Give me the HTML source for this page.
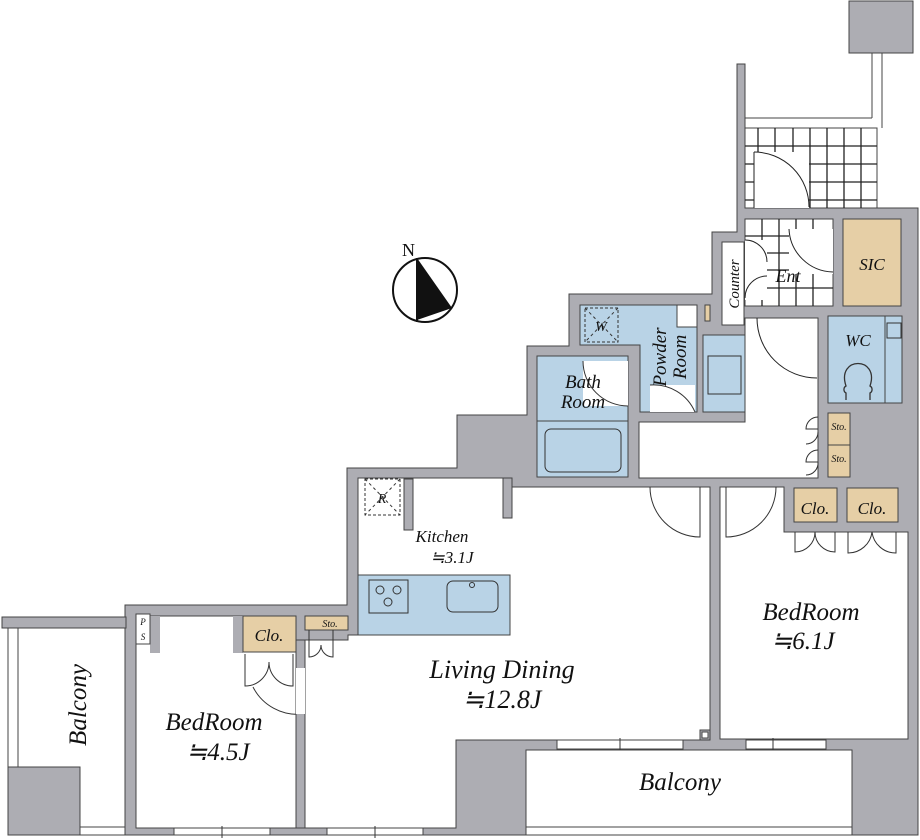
<!DOCTYPE html>
<html><head><meta charset="utf-8"><style>
html,body{margin:0;padding:0;background:#fff;}
svg{display:block;}
text{font-family:"Liberation Serif",serif;font-style:italic;fill:#111;}
</style></head><body>
<svg width="920" height="840" viewBox="0 0 920 840" xmlns="http://www.w3.org/2000/svg">
<g stroke="#444" stroke-width="1">
<rect x="849" y="1" width="64" height="52" fill="#adadb3"/>
<line x1="872" y1="53" x2="872" y2="118" fill="none"/>
<line x1="882" y1="53" x2="882" y2="128" fill="none"/>
<line x1="745" y1="118" x2="872" y2="118"/>
<path d="M125,605 H347 V468 H457 V415 H527 V346 H569 V294 H712 V232 H737 V64 H745 V208 H918 V835 H125 Z" fill="#adadb3"/>
<rect x="2" y="617" width="124" height="11" fill="#adadb3"/>
<line x1="8" y1="628" x2="8" y2="835"/><line x1="18" y1="628" x2="18" y2="767"/>
<rect x="8" y="767" width="72" height="68" fill="#adadb3"/>
<line x1="80" y1="827" x2="125" y2="827"/><line x1="8" y1="835" x2="125" y2="835"/>
<rect x="745" y="128" width="132" height="80" fill="#fff"/>
</g>
<g stroke="#222" stroke-width="1.3" fill="none">
<path d="M758,128 V208 M775,128 V208 M793,128 V208 M810,128 V208 M827,128 V208 M844,128 V208 M861,128 V208 M745,146 H877 M745,164 H877 M745,182 H877 M745,200 H877"/>
</g>
<rect x="754" y="152" width="55" height="56" fill="#fff"/>
<path d="M754,152 A55,55 0 0 1 809,207" stroke="#222" fill="none"/>
<line x1="754" y1="152" x2="754" y2="208" stroke="#222"/>
<rect x="745" y="219" width="88" height="87" fill="#fff" stroke="#444"/>
<g stroke="#222" stroke-width="1.3" fill="none">
<path d="M762,219 V306 M779,219 V306 M796,219 V306 M813,219 V306 M745,236 H833 M745,253 H833 M745,270 H833 M745,288 H833"/>
</g>
<rect x="789" y="229" width="44" height="45" fill="#fff"/>
<path d="M789,229 A45,45 0 0 0 833,272" stroke="#222" fill="none"/>
<rect x="745" y="240" width="22" height="60" fill="#fff"/>
<path d="M745,240 A22,22 0 0 1 767,262 M745,298 A22,22 0 0 1 767,276" stroke="#222" fill="none"/>
<rect x="722" y="242" width="22" height="83" fill="#fff" stroke="#444"/>
<rect x="843" y="219" width="58" height="87" fill="#e6cfa6" stroke="#444"/>
<path d="M745,318 H818 V478 H639 V422 H745 Z" fill="#fff" stroke="#444"/>
<path d="M757,318 A60,60 0 0 0 817,378" stroke="#222" fill="none"/>
<rect x="828" y="316" width="74" height="87" fill="#b9d3e6" stroke="#444"/>
<line x1="885" y1="316" x2="885" y2="403" stroke="#444"/>
<rect x="887" y="323" width="14" height="15" fill="none" stroke="#333"/>
<path d="M846,400 V393 A4,4 0 0 1 846,386 C836,356 880,356 870,386 A4,4 0 0 1 870,393 V400" fill="none" stroke="#333" stroke-width="1.3"/>
<rect x="828" y="413" width="22" height="32" fill="#e6cfa6" stroke="#444"/>
<rect x="828" y="445" width="22" height="32" fill="#e6cfa6" stroke="#444"/>
<path d="M818,417 A12,12 0 0 0 806,429 H818 M818,432 A12,12 0 0 1 806,444 M818,450 A12,12 0 0 0 806,462 H818 M818,462 A12,12 0 0 1 806,475" stroke="#333" fill="none"/>
<path d="M580,305 H697 V412 H640 V345 H580 Z" fill="#b9d3e6" stroke="#444"/>
<rect x="703" y="335" width="42" height="77" fill="#b9d3e6" stroke="#444"/>
<rect x="708" y="356" width="33" height="38" fill="none" stroke="#333"/>
<rect x="677" y="305" width="20" height="22" fill="#fff" stroke="#444"/>
<rect x="705" y="305" width="5" height="16" fill="#e6cfa6" stroke="#444"/>
<rect x="585" y="308" width="33" height="34" fill="none" stroke="#333" stroke-dasharray="3,2"/>
<path d="M585,308 L618,342 M618,308 L585,342" stroke="#333" stroke-dasharray="3,3"/>
<rect x="650" y="385" width="45" height="27" fill="#fff"/>
<path d="M650,385 A45,45 0 0 1 695,412" stroke="#333" fill="none"/>
<rect x="537" y="356" width="91" height="121" fill="#b9d3e6" stroke="#444"/>
<line x1="537" y1="421" x2="628" y2="421" stroke="#444"/>
<rect x="545" y="429" width="76" height="43" rx="6" fill="none" stroke="#333"/>
<rect x="583" y="361" width="45" height="45" fill="#fff"/>
<path d="M583,361 A45,45 0 0 0 628,406" stroke="#333" fill="none"/>
<path d="M358,478 H503 V518 H512 V487 H710 V740 H456 V828 H305 V640 H348 V635 H358 Z" fill="#fff" stroke="#444"/>
<rect x="503" y="478" width="9" height="40" fill="#adadb3" stroke="#444"/>
<rect x="404" y="479" width="9" height="51" fill="#adadb3" stroke="#444"/>
<rect x="365" y="479" width="35" height="36" fill="none" stroke="#333" stroke-dasharray="3,2"/>
<path d="M365,479 L400,515 M400,479 L365,515" stroke="#333" stroke-dasharray="3,3"/>
<rect x="358" y="575" width="152" height="60" fill="#b9d3e6" stroke="#444"/>
<rect x="369" y="580" width="39" height="33" fill="none" stroke="#333"/>
<circle cx="380" cy="590" r="4" fill="none" stroke="#333"/><circle cx="397" cy="590" r="4" fill="none" stroke="#333"/><circle cx="388" cy="602" r="4" fill="none" stroke="#333"/>
<rect x="447" y="581" width="51" height="31" rx="6" fill="none" stroke="#333"/>
<circle cx="472" cy="585" r="2.5" fill="none" stroke="#333"/>
<path d="M650,487 A50,50 0 0 0 700,537 V487" stroke="#333" fill="none"/>
<rect x="700" y="730" width="10" height="10" fill="#adadb3" stroke="#444"/>
<rect x="702" y="732" width="6" height="6" fill="#fff" stroke="#444"/>
<path d="M720,487 H784 V532 H908 V739 H720 Z" fill="#fff" stroke="#444"/>
<path d="M776,487 A50,50 0 0 1 726,537 V487" stroke="#333" fill="none"/>
<rect x="794" y="488" width="43" height="34" fill="#e6cfa6" stroke="#444"/>
<rect x="847" y="488" width="51" height="34" fill="#e6cfa6" stroke="#444"/>
<path d="M795,532 V552 A20,20 0 0 0 815,532 A20,20 0 0 0 835,552 V532 M848,532 V553 A24,24 0 0 0 872,532 A24,24 0 0 0 896,553 V532" stroke="#333" fill="none"/>
<rect x="526" y="750" width="326" height="85" fill="#fff" stroke="#444"/>
<line x1="526" y1="827" x2="852" y2="827" stroke="#444"/>
<rect x="557" y="740" width="126" height="9" fill="#fff" stroke="#444"/>
<rect x="746" y="740" width="80" height="9" fill="#fff" stroke="#444"/>
<path d="M620,738 V750 M773,738 V750" stroke="#333"/>
<rect x="136" y="616" width="160" height="212" fill="#fff" stroke="#444"/>
<rect x="150" y="616" width="10" height="37" fill="#adadb3"/>
<rect x="136" y="614" width="14" height="30" fill="#fff" stroke="#444"/>
<rect x="233" y="616" width="10" height="37" fill="#adadb3"/>
<rect x="243" y="616" width="53" height="36" fill="#e6cfa6" stroke="#444"/>
<path d="M245,654 V686 A24,24 0 0 0 269,662 A24,24 0 0 0 293,686 V654" stroke="#333" fill="none"/>
<path d="M253,687 A50,50 0 0 0 303,714" stroke="#333" fill="none"/>
<rect x="296" y="640" width="9" height="188" fill="#adadb3" stroke="#444"/>
<rect x="296" y="668" width="9" height="46" fill="#fff"/>
<rect x="305" y="616" width="43" height="14" fill="#e6cfa6" stroke="#444"/>
<path d="M309,630 V657 A12,12 0 0 0 321,645 A12,12 0 0 0 333,657 V630" stroke="#333" fill="none"/>
<rect x="174" y="828" width="96" height="7" fill="#fff" stroke="#444"/>
<rect x="327" y="828" width="96" height="7" fill="#fff" stroke="#444"/>
<path d="M222,826 V838 M375,826 V838" stroke="#333"/>
<circle cx="425" cy="290" r="32" fill="#fff" stroke="#111" stroke-width="2"/>
<path d="M417,258 L452,308 L417,320 Z" fill="#111"/>
<line x1="417" y1="258" x2="417" y2="322" stroke="#111" stroke-width="2"/>
<text x="402" y="256" font-size="18" style="font-style:normal">N</text>
<text x="442" y="542" font-size="17" text-anchor="middle">Kitchen</text>
<text x="452" y="563" font-size="17" text-anchor="middle">≒3.1J</text>
<text x="502" y="678" font-size="26" text-anchor="middle">Living Dining</text>
<text x="502" y="708" font-size="26" text-anchor="middle">≒12.8J</text>
<text x="811" y="620" font-size="25" text-anchor="middle">BedRoom</text>
<text x="803" y="649" font-size="25" text-anchor="middle">≒6.1J</text>
<text x="214" y="730" font-size="25" text-anchor="middle">BedRoom</text>
<text x="218" y="760" font-size="25" text-anchor="middle">≒4.5J</text>
<text x="680" y="790" font-size="25" text-anchor="middle">Balcony</text>
<text transform="translate(86,705) rotate(-90)" font-size="25" text-anchor="middle">Balcony</text>
<text x="583" y="388" font-size="19" text-anchor="middle">Bath</text>
<text x="583" y="408" font-size="19" text-anchor="middle">Room</text>
<text transform="translate(666,357) rotate(-90)" font-size="19" text-anchor="middle">Powder</text>
<text transform="translate(686,357) rotate(-90)" font-size="19" text-anchor="middle">Room</text>
<text transform="translate(739,284) rotate(-90)" font-size="15" text-anchor="middle">Counter</text>
<text x="788" y="282" font-size="18" text-anchor="middle">Ent</text>
<text x="872" y="270" font-size="17" text-anchor="middle">SIC</text>
<text x="858" y="346" font-size="17" text-anchor="middle">WC</text>
<text x="839" y="430" font-size="10" text-anchor="middle">Sto.</text>
<text x="839" y="462" font-size="10" text-anchor="middle">Sto.</text>
<text x="815" y="514" font-size="17" text-anchor="middle">Clo.</text>
<text x="872" y="514" font-size="17" text-anchor="middle">Clo.</text>
<text x="269" y="641" font-size="17" text-anchor="middle">Clo.</text>
<text x="330" y="627" font-size="10" text-anchor="middle">Sto.</text>
<text x="601" y="331" font-size="14" text-anchor="middle">W</text>
<text x="382" y="503" font-size="14" text-anchor="middle">R</text>
<text x="143" y="625" font-size="9" text-anchor="middle">P</text>
<text x="143" y="640" font-size="9" text-anchor="middle">S</text>
</svg>
</body></html>
